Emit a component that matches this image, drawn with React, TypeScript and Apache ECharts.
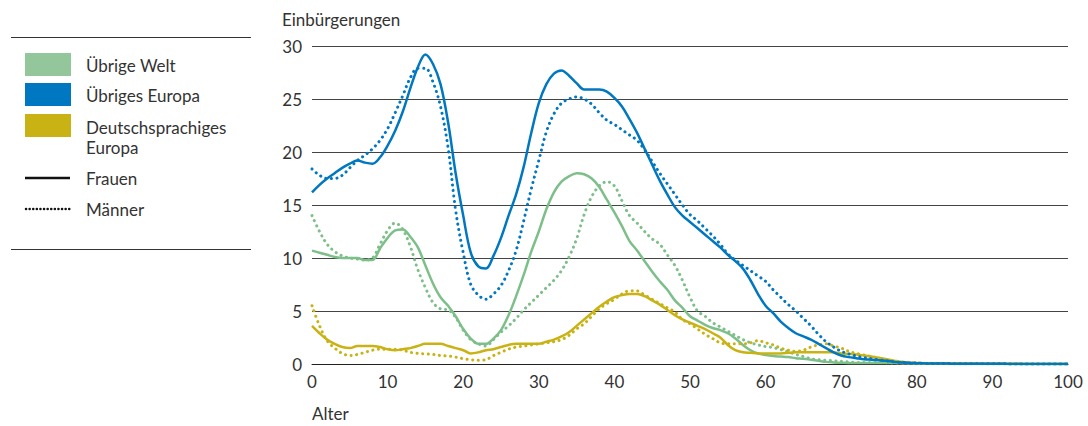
import React, { useEffect, useRef } from "react";
import * as echarts from "echarts";

const ages: number[] = Array.from({ length: 101 }, (_, i) => i);

const europaFrauen: number[] = [
  16.2, 16.9, 17.5, 18.0, 18.5, 18.9, 19.2, 19.0, 18.9, 19.5,
  20.6, 22.0, 23.8, 26.0, 28.0, 29.2, 28.3, 26.4, 22.8, 18.0,
  14.0, 10.5, 9.2, 9.0, 10.2, 11.9, 14.0, 16.0, 18.6, 21.8,
  24.6, 26.4, 27.4, 27.7, 27.2, 26.5, 25.9, 25.9, 25.9, 25.7,
  25.1, 24.3, 23.1, 21.8, 20.3, 18.8, 17.3, 16.0, 14.8, 14.0,
  13.4, 12.8, 12.2, 11.6, 11.0, 10.3, 9.7, 9.0, 7.9, 6.6,
  5.5, 4.8, 4.0, 3.4, 2.9, 2.6, 2.3, 1.9, 1.5, 1.1,
  0.8, 0.65, 0.55, 0.45, 0.4, 0.35, 0.3, 0.2, 0.15, 0.1,
  0.08, 0.06, 0.05, 0.04, 0.04, 0.03, 0.03, 0.03, 0.02, 0.02,
  0.02, 0.02, 0.01, 0.01, 0.01, 0.01, 0.01, 0.01, 0.01, 0.01, 0.01,
];

const europaMaenner: number[] = [
  18.4, 17.8, 17.5, 17.5, 17.8, 18.5, 19.2, 19.7, 20.3, 21.1,
  22.2, 23.7, 25.3, 27.0, 27.9, 27.9, 26.6, 24.3, 20.4, 14.5,
  10.5, 7.5, 6.5, 6.1, 6.6, 7.4, 8.8, 10.7, 13.5, 16.5,
  19.2, 21.9, 23.6, 24.6, 25.0, 25.2, 25.0, 24.5, 23.7, 23.0,
  22.6, 22.1, 21.6, 21.1, 20.2, 19.1, 18.0, 17.0, 16.0, 15.0,
  14.1, 13.5, 12.8, 12.1, 11.3, 10.4, 9.8, 9.3, 8.8, 8.3,
  7.8, 7.0, 6.3, 5.6, 5.0, 4.3, 3.6, 2.8, 2.1, 1.6,
  1.2, 0.95, 0.75, 0.6, 0.5, 0.4, 0.3, 0.2, 0.15, 0.1,
  0.08, 0.06, 0.05, 0.04, 0.04, 0.03, 0.03, 0.03, 0.02, 0.02,
  0.02, 0.02, 0.01, 0.01, 0.01, 0.01, 0.01, 0.01, 0.01, 0.01, 0.01,
];

const weltFrauen: number[] = [
  10.7, 10.5, 10.3, 10.1, 10.0, 10.0, 10.0, 9.8, 9.8, 10.9,
  11.9, 12.6, 12.7, 12.0, 11.0, 9.3, 7.6, 6.3, 5.5, 4.5,
  3.3, 2.4, 1.9, 1.9, 2.4, 3.2, 4.6, 6.4, 8.4, 10.6,
  12.5, 14.6, 16.2, 17.2, 17.7, 18.0, 17.9, 17.5, 16.7, 15.5,
  14.3, 13.0, 11.6, 10.7, 9.7, 8.7, 7.8, 7.0, 6.0, 5.3,
  4.5, 4.1, 3.7, 3.4, 3.2, 2.9, 2.4, 1.8, 1.3, 1.0,
  0.85, 0.75, 0.7, 0.65, 0.55, 0.5, 0.4, 0.3, 0.2, 0.15,
  0.12, 0.1, 0.1, 0.1, 0.1, 0.1, 0.1, 0.1, 0.08, 0.07,
  0.06, 0.05, 0.05, 0.04, 0.04, 0.03, 0.03, 0.03, 0.02, 0.02,
  0.02, 0.02, 0.01, 0.01, 0.01, 0.01, 0.01, 0.01, 0.01, 0.01, 0.01,
];

const weltMaenner: number[] = [
  14.0, 12.5, 11.3, 10.6, 10.2, 10.0, 9.9, 9.8, 10.0, 11.3,
  12.6, 13.3, 12.7, 11.1, 8.9, 7.2, 5.8, 5.2, 5.1, 4.4,
  3.2, 2.3, 1.9, 1.7, 2.3, 3.0, 3.6, 4.3, 5.1, 5.8,
  6.5, 7.2, 7.9, 8.8, 10.1, 11.8, 14.1, 15.8, 16.8, 17.2,
  16.8, 15.4, 14.0, 13.3, 12.5, 11.8, 11.3, 10.3, 9.3, 7.9,
  6.3, 5.0, 4.5, 3.9, 3.5, 3.1, 2.7, 2.3, 2.0, 1.8,
  1.65, 1.55, 1.35, 1.15, 0.9, 0.7, 0.5, 0.4, 0.35, 0.3,
  0.25, 0.2, 0.15, 0.15, 0.15, 0.15, 0.12, 0.1, 0.1, 0.08,
  0.07, 0.06, 0.05, 0.04, 0.04, 0.03, 0.03, 0.03, 0.02, 0.02,
  0.02, 0.02, 0.01, 0.01, 0.01, 0.01, 0.01, 0.01, 0.01, 0.01, 0.01,
];

const deutschFrauen: number[] = [
  3.6, 2.9, 2.3, 1.9, 1.6, 1.5, 1.7, 1.7, 1.7, 1.6,
  1.4, 1.3, 1.4, 1.5, 1.7, 1.9, 1.9, 1.9, 1.7, 1.5,
  1.3, 1.0, 1.1, 1.3, 1.4, 1.6, 1.8, 1.9, 1.9, 1.9,
  1.9, 2.1, 2.3, 2.6, 3.0, 3.6, 4.2, 4.8, 5.4, 5.9,
  6.3, 6.5, 6.6, 6.6, 6.4, 6.0, 5.6, 5.1, 4.6, 4.2,
  3.9, 3.6, 3.3, 2.9, 2.5, 1.8, 1.3, 1.1, 1.05, 1.0,
  1.0, 1.0, 1.0, 1.05, 1.1, 1.1, 1.1, 1.1, 1.1, 1.1,
  1.0, 0.95, 0.9, 0.8, 0.7, 0.6, 0.45, 0.3, 0.2, 0.12,
  0.1, 0.08, 0.07, 0.06, 0.06, 0.05, 0.05, 0.04, 0.04, 0.03,
  0.03, 0.02, 0.02, 0.02, 0.01, 0.01, 0.01, 0.01, 0.01, 0.01, 0.01,
];

const deutschMaenner: number[] = [
  5.5, 3.6, 2.2, 1.5, 1.0, 0.8, 0.9, 1.1, 1.3, 1.4,
  1.4, 1.4, 1.3, 1.1, 1.0, 0.95, 0.9, 0.8, 0.75, 0.65,
  0.5, 0.4, 0.35, 0.4, 0.8, 1.1, 1.4, 1.6, 1.7, 1.8,
  1.9, 2.0, 2.1, 2.3, 2.7, 3.3, 3.8, 4.5, 5.2, 5.7,
  6.1, 6.6, 6.9, 6.9, 6.5, 6.1, 5.7, 5.3, 4.9, 4.2,
  3.8, 3.3, 2.8, 2.4, 2.0, 1.9, 1.9, 1.9, 2.0, 2.2,
  2.0, 1.8, 1.5, 1.3, 1.2, 1.3, 1.6, 1.8, 1.9, 1.7,
  1.5, 1.2, 1.0, 0.85, 0.7, 0.55, 0.4, 0.3, 0.2, 0.15,
  0.1, 0.08, 0.07, 0.06, 0.06, 0.05, 0.05, 0.04, 0.04, 0.03,
  0.03, 0.02, 0.02, 0.02, 0.01, 0.01, 0.01, 0.01, 0.01, 0.01, 0.01,
];

const legendRegions = ["Übrige Welt", "Übriges Europa", "Deutschsprachiges", "Europa"];
const legendSexes = ["Frauen", "Männer"];
const yAxisTitle = "Einbürgerungen";
const xAxisTitle = "Alter";
const xTicks = [0, 10, 20, 30, 40, 50, 60, 70, 80, 90, 100];

const GREEN = "#7dbf89";
const GREEN_SW = "#93c69a";
const BLUE = "#0077c1";
const YELLOW = "#c9b214";
const FONT = "Lato, 'Open Sans', sans-serif";
const FS = 17;
const TXT = "#333333";

const pairs = (vals: number[]) => ages.map((a, i) => [a, vals[i]]);

export default function App() {
  const ref = useRef<HTMLDivElement>(null);
  useEffect(() => {
    if (!ref.current) return;
    const chart = echarts.init(ref.current, null, { renderer: "svg" });
    const solid = (color: string) => ({ color, width: 2.5, type: "solid" as const });
    const dotted = (color: string) => ({ color, width: 3, type: [0.1, 5.5], cap: "round" as const });
    const mk = (name: string, data: number[], ls: any, color: string, z: number) => ({
      name,
      type: "line",
      data: pairs(data),
      showSymbol: false,
      symbol: "none",
      smooth: 0.35,
      lineStyle: ls,
      itemStyle: { color },
      z,
    });
    const text = (t: string, x: number, y: number) => ({
      type: "text",
      x,
      y,
      style: { text: t, font: `${FS}px ${FONT}`, fill: TXT, verticalAlign: "middle", align: "left" },
    });
    const swatchColors = [GREEN_SW, BLUE, YELLOW];
    const swatchY = [53, 83, 114];
    const labelY = [65, 95, 127, 147];
    const graphics: any[] = [
      { type: "line", shape: { x1: 11, y1: 37.5, x2: 251, y2: 37.5 }, style: { stroke: "#333", lineWidth: 1 } },
      { type: "line", shape: { x1: 11, y1: 249.5, x2: 251, y2: 249.5 }, style: { stroke: "#333", lineWidth: 1 } },
    ];
    swatchColors.forEach((c, i) => {
      graphics.push({ type: "rect", shape: { x: 25, y: swatchY[i], width: 46, height: 23 }, style: { fill: c } });
    });
    legendRegions.forEach((name, i) => graphics.push(text(name, 86, labelY[i])));
    graphics.push({ type: "line", shape: { x1: 25, y1: 178, x2: 70, y2: 178 }, style: { stroke: "#111", lineWidth: 2.5 } });
    graphics.push(text(legendSexes[0], 86, 178));
    graphics.push({ type: "line", shape: { x1: 26, y1: 209, x2: 70, y2: 209 }, style: { stroke: "#111", lineWidth: 2.5, lineDash: [0.1, 3.5], lineCap: "round" } });
    graphics.push(text(legendSexes[1], 86, 209));
    graphics.push(text(yAxisTitle, 282, 19));
    graphics.push(text(xAxisTitle, 312, 413));

    chart.setOption({
      animation: false,
      grid: { left: 312, right: 20, top: 46, bottom: 62, containLabel: false },
      xAxis: {
        type: "value",
        min: 0,
        max: 100,
        interval: 10,
        axisLine: { show: true, lineStyle: { color: "#222", width: 1 } },
        axisTick: { show: false },
        splitLine: { show: false },
        axisLabel: {
          color: TXT,
          fontSize: FS,
          fontFamily: FONT,
          margin: 9,
          formatter: (v: number) => (xTicks.includes(v) ? String(v) : ""),
        },
      },
      yAxis: {
        type: "value",
        min: 0,
        max: 30,
        interval: 5,
        axisLine: { show: false },
        axisTick: { show: false },
        splitLine: { show: true, lineStyle: { color: "#444", width: 1 } },
        axisLabel: { color: TXT, fontSize: FS, fontFamily: FONT, margin: 10 },
      },
      graphic: graphics,
      series: [
        mk("Übrige Welt Männer", weltMaenner, dotted(GREEN), GREEN, 2),
        mk("Übrige Welt Frauen", weltFrauen, solid(GREEN), GREEN, 3),
        mk("Deutschsprachiges Europa Männer", deutschMaenner, dotted(YELLOW), YELLOW, 4),
        mk("Deutschsprachiges Europa Frauen", deutschFrauen, solid(YELLOW), YELLOW, 5),
        mk("Übriges Europa Männer", europaMaenner, dotted(BLUE), BLUE, 6),
        mk("Übriges Europa Frauen", europaFrauen, solid(BLUE), BLUE, 7),
      ],
    });
    return () => chart.dispose();
  }, []);
  return (
    <div
      ref={ref}
      style={{ position: "absolute", left: 0, top: 0, width: 1088, height: 426, background: "#fff" }}
    />
  );
}
